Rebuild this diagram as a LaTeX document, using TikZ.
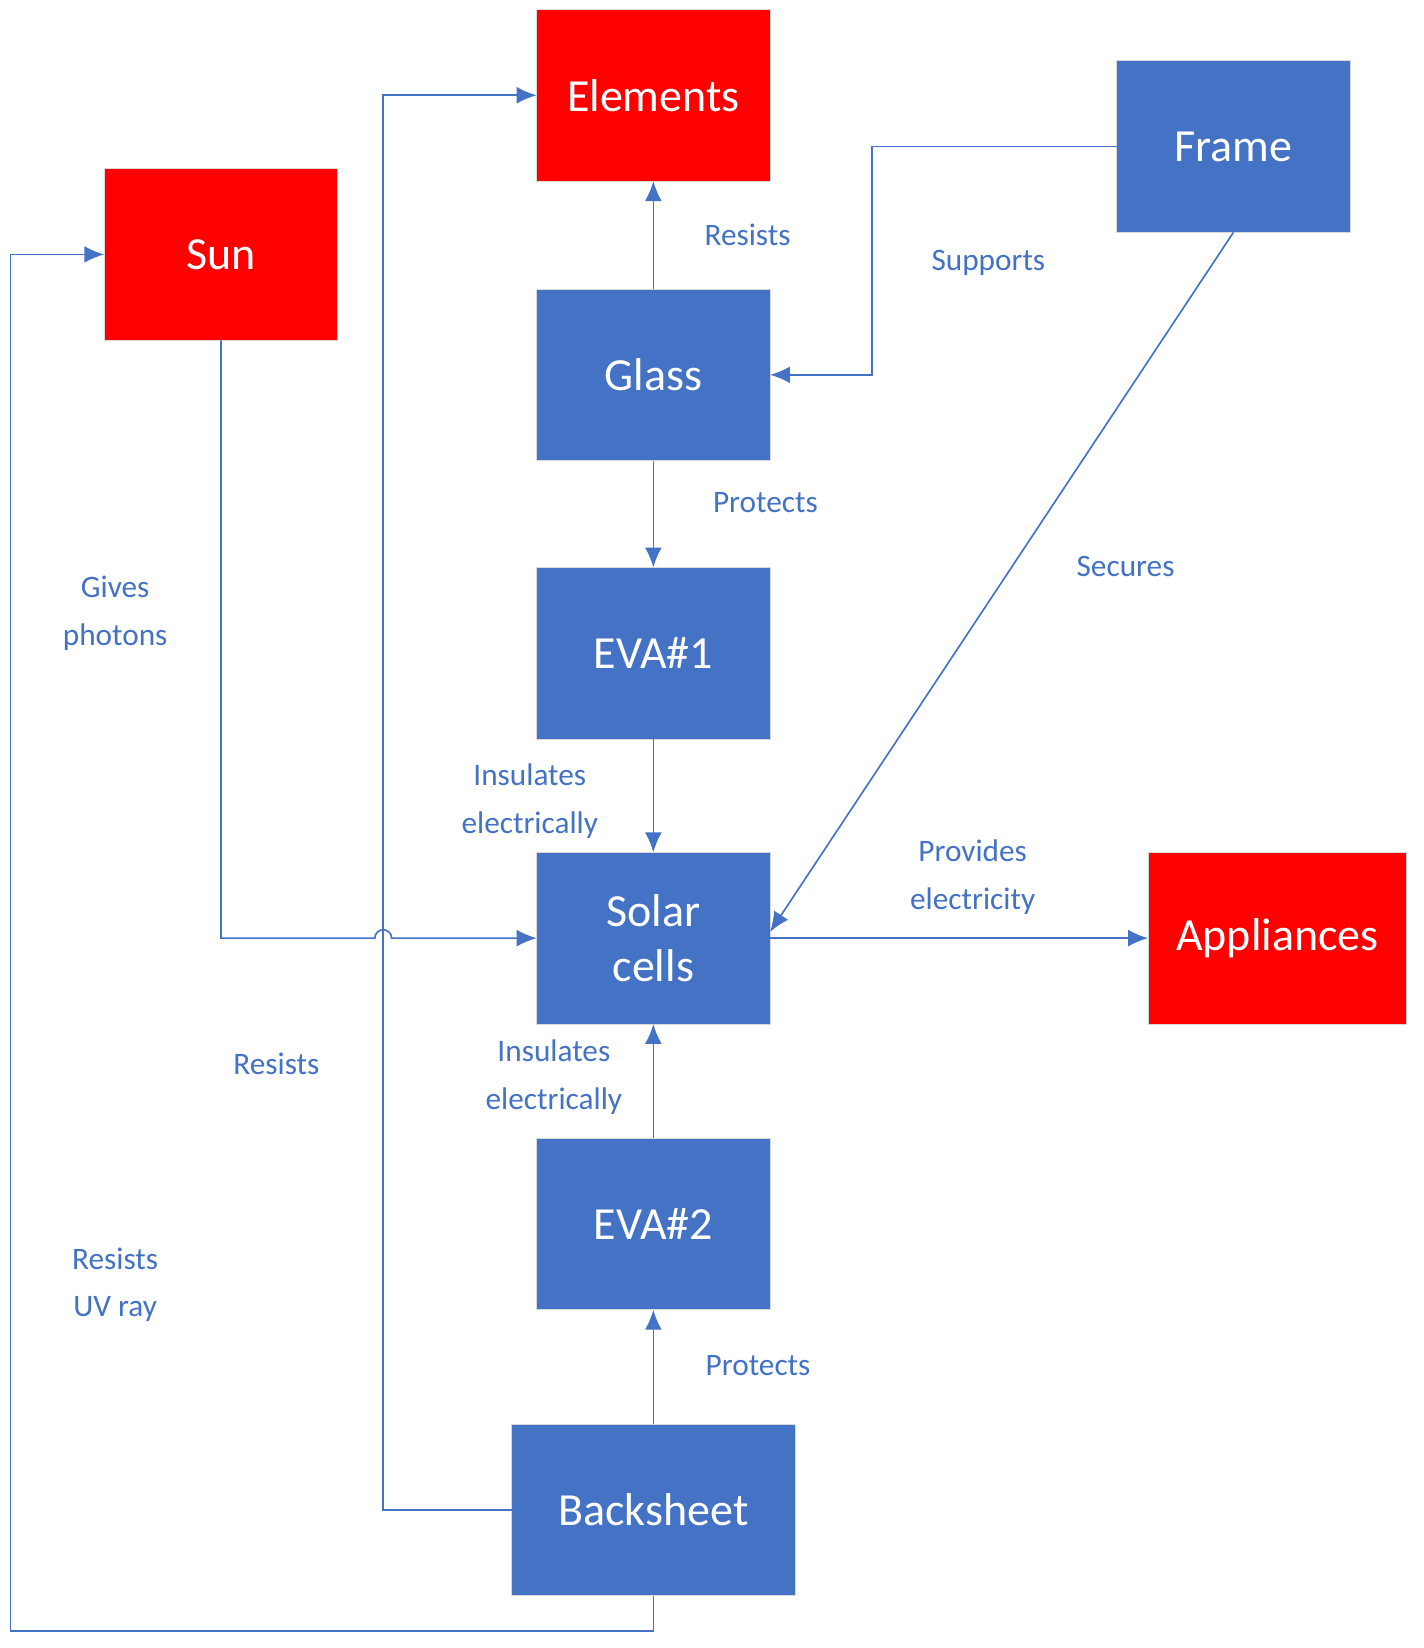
\documentclass[tikz,border=0pt]{standalone}
\usepackage{fontspec}
\setmainfont{Carlito}
\usetikzlibrary{arrows.meta}
\definecolor{bl}{HTML}{4472C4}
\definecolor{rd}{HTML}{FF0000}
\begin{document}
\begin{tikzpicture}[x=0.02cm,y=-0.02cm,
  box/.style={fill=bl,draw=black!15,line width=0.4pt,text=white,font=\fontsize{25}{30}\selectfont,minimum width=4.46cm,minimum height=3.28cm,inner sep=0pt,outer sep=0pt,align=center},
  rbox/.style={box,fill=rd},
  lbl/.style={text=bl,font=\fontsize{17}{26}\selectfont,align=center},
  con/.style={draw=bl,line width=0.9pt,-{Latex[length=0.38cm,width=0.32cm]}}]
\useasboundingbox[fill=white] (0,0) rectangle (1360,1574);
\node[rbox] (el) at (624,91) {Elements};
\node[box] (fr) at (1178,140) {Frame};
\node[rbox] (sun) at (211,243) {Sun};
\node[box] (gl) at (624,358) {Glass};
\node[box] (e1) at (624,624) {EVA\#1};
\node[box] (sc) at (624,896) {Solar\\cells};
\node[rbox,minimum width=4.94cm] (ap) at (1220,896) {Appliances};
\node[box] (e2) at (624,1169) {EVA\#2};
\node[box,minimum width=5.42cm] (bs) at (624,1442) {Backsheet};
\coordinate (hopa) at (358,896);
\draw[con] (gl) -- (el);
\draw[con] (fr.west) -- (833,140) |- (gl.east);
\draw[con] (fr.south) -- ([yshift=0.12cm]sc.east);
\draw[con] (gl) -- (e1);
\draw[con] (e1) -- (sc);
\draw[con] (bs.west) -- (366,1442) |- (el.west);
\draw[con] (sun.south) |- (hopa) arc[start angle=180,end angle=0,radius=0.16cm] -- (sc.west);
\draw[con] (bs.south) -- (624,1558) -- (10,1558) |- (sun.west);
\draw[con] (e2) -- (sc);
\draw[con] (bs) -- (e2);
\draw[con] (sc.east) -- (ap.west);
\node[lbl] (l1) at (714,224) {Resists};
\node[lbl] (l2) at (944,251) {Supports};
\node[lbl] (l3) at (731,480) {Protects};
\node[lbl] (l4) at (1075,541) {Secures};
\node[lbl] (l5) at (110,586) {Gives\\photons};
\node[lbl] (l6) at (506,765) {Insulates\\electrically};
\node[lbl] (l7) at (929,838) {Provides\\electricity};
\node[lbl] (l8) at (264,1016) {Resists};
\node[lbl] (l9) at (529,1029) {Insulates\\electrically};
\node[lbl] (l10) at (110,1227) {Resists\\UV ray};
\node[lbl] (l11) at (724,1304) {Protects};
\end{tikzpicture}
\end{document}
